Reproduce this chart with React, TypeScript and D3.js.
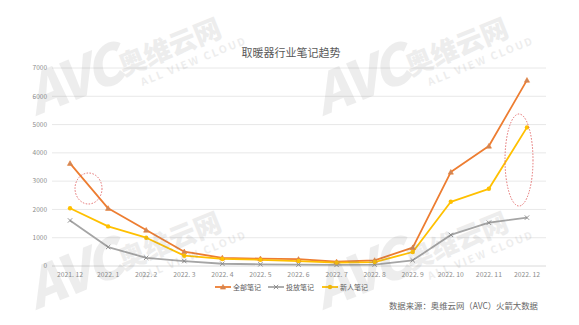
import React from "react";
import * as d3 from "d3";

const categories = ["2021. 12", "2022. 1", "2022. 2", "2022. 3", "2022. 4", "2022. 5", "2022. 6", "2022. 7", "2022. 8", "2022. 9", "2022. 10", "2022. 11", "2022. 12"];
const allNotes = [3630, 2040, 1270, 505, 290, 260, 240, 150, 200, 650, 3320, 4240, 6570];
const adNotes = [1610, 670, 290, 175, 80, 60, 50, 40, 50, 200, 1100, 1530, 1710];
const newNotes = [2040, 1400, 1000, 365, 250, 220, 175, 120, 140, 495, 2270, 2730, 4900];
const yTicks = [0, 1000, 2000, 3000, 4000, 5000, 6000, 7000];
const seriesNames = ["全部笔记", "投放笔记", "新人笔记"];
const title = "取暖器行业笔记趋势";
const source = "数据来源：奥维云网（AVC）火箭大数据";

const W = 579, H = 325;
const colors = ["#ED7D31", "#A5A5A5", "#FFC000"];
const font = "'Noto Sans CJK SC', 'Noto Sans', sans-serif";

function Marker({ kind, x, y, color }: { kind: number; x: number; y: number; color: string }) {
  if (kind === 0) {
    const s = 2.6;
    return <path d={`M${x},${y - s}L${x + s},${y + s * 0.8}L${x - s},${y + s * 0.8}Z`} fill="#c8875f" stroke={color} strokeWidth={0.6} />;
  }
  if (kind === 1) {
    const s = 2.2;
    return <path d={`M${x - s},${y - s}L${x + s},${y + s}M${x - s},${y + s}L${x + s},${y - s}`} stroke="#888" strokeWidth={0.9} />;
  }
  return <circle cx={x} cy={y} r={2.2} fill={color} />;
}

function Watermark({ x, y }: { x: number; y: number }) {
  return (
    <g transform={`translate(${x},${y}) rotate(-22)`} fill="#7a7a7a" opacity={0.13} fontFamily={font}>
      <text x={0} y={0} fontSize={54} fontWeight={900} fontStyle="italic" letterSpacing={-3}>AVC</text>
      <text x={96} y={-4} fontSize={27} fontWeight={900}>奥维云网</text>
      <text x={110} y={12} fontSize={10.5} fontWeight={700} letterSpacing={2}>ALL VIEW CLOUD</text>
    </g>
  );
}

export default function App() {
  const x = d3.scaleBand<string>().domain(categories).range([51, 546]);
  const y = d3.scaleLinear().domain([0, 7000]).range([266, 68]);
  const cx = (c: string) => (x(c) as number) + x.bandwidth() / 2;
  const series = [allNotes, adNotes, newNotes];
  const line = d3.line<number>().x((_, i) => cx(categories[i])).y((d) => y(d));
  const legendX = [215, 268, 322];

  return (
    <svg width={W} height={H} style={{ position: "absolute", left: 0, top: 0, background: "#fff" }} fontFamily={font}>
      <rect width={W} height={H} fill="#fff" />
      <text x={291} y={57} textAnchor="middle" fontSize={11} fill="#595959">{title}</text>
      {yTicks.map((t) => (
        <g key={t}>
          <line x1={52} x2={546} y1={y(t)} y2={y(t)} stroke={t === 0 ? "#d0d0d0" : "#e2e2e2"} strokeWidth={0.8} />
          <text x={47} y={y(t) + 2.3} textAnchor="end" fontSize={6.5} fill="#8c8c8c">{t}</text>
        </g>
      ))}
      {categories.map((c) => (
        <text key={c} x={cx(c)} y={276.5} textAnchor="middle" fontSize={6.8} fill="#8c8c8c">{c}</text>
      ))}
      {series.map((s, k) => (
        <path key={k} d={line(s) as string} fill="none" stroke={colors[k]} strokeWidth={1.8} strokeLinejoin="round" />
      ))}
      {series.map((s, k) =>
        s.map((v, i) => <Marker key={`${k}-${i}`} kind={k} x={cx(categories[i])} y={y(v)} color={colors[k]} />)
      )}
      <ellipse cx={88.5} cy={188.5} rx={13.5} ry={15.5} fill="none" stroke="#e06060" strokeWidth={0.9} strokeDasharray="1.5 1.5" />
      <ellipse cx={519} cy={160} rx={14} ry={46} fill="none" stroke="#e06060" strokeWidth={0.9} strokeDasharray="1.5 1.5" />
      {seriesNames.map((n, k) => (
        <g key={n}>
          <line x1={legendX[k]} x2={legendX[k] + 16} y1={287} y2={287} stroke={colors[k]} strokeWidth={1.8} />
          <Marker kind={k} x={legendX[k] + 8} y={287} color={colors[k]} />
          <text x={legendX[k] + 18} y={289.5} fontSize={7} fill="#595959">{n}</text>
        </g>
      ))}
      <text x={538} y={309} textAnchor="end" fontSize={8.4} fill="#666">{source}</text>
      <Watermark x={36} y={116} />
      <Watermark x={323} y={116} />
      <Watermark x={36} y={310} />
      <Watermark x={323} y={310} />
    </svg>
  );
}
